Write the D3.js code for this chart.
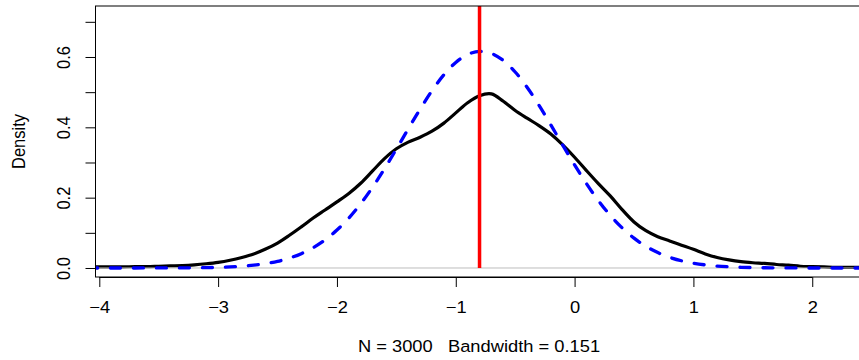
<!DOCTYPE html>
<html>
<head>
<meta charset="utf-8">
<script src="https://cdn.jsdelivr.net/npm/d3@7"></script>
<style>
  body { margin: 0; background: #fff; }
  svg { display: block; font-family: "Liberation Sans", Arial, Helvetica, sans-serif; }
</style>
</head>
<body>
<svg id="viz" width="859" height="360"></svg>
<script>
const svg = d3.select("#viz");
const width = +svg.attr("width");
const height = +svg.attr("height");

// plot region (R style box), right side runs just past the window
const box = { left: 95.5, right: 862.5, top: 6, bottom: 277 };

// data
const gridX = [-4.1, -4.0, -3.9, -3.8, -3.7, -3.6, -3.5, -3.4, -3.3, -3.2, -3.1, -3.0, -2.9, -2.8, -2.7, -2.6,
  -2.5, -2.4, -2.3, -2.2, -2.1, -2.0, -1.9, -1.8, -1.7, -1.6, -1.5, -1.4, -1.3, -1.2, -1.1, -1.0,
  -0.9, -0.8, -0.7, -0.6, -0.5, -0.4, -0.3, -0.2, -0.1, 0.0, 0.1, 0.2, 0.3, 0.4, 0.5, 0.6,
  0.7, 0.8, 0.9, 1.0, 1.1, 1.2, 1.3, 1.4, 1.5, 1.6, 1.7, 1.8, 1.9, 2.0, 2.1, 2.2, 2.3, 2.4, 2.5];
const kernelDensity = [0.003, 0.003, 0.003, 0.003, 0.004, 0.004, 0.005, 0.006, 0.007, 0.009, 0.012, 0.016, 0.022, 0.030, 0.040, 0.054,
  0.071, 0.093, 0.117, 0.142, 0.165, 0.188, 0.212, 0.241, 0.276, 0.311, 0.339, 0.358, 0.372, 0.389, 0.412, 0.441,
  0.470, 0.490, 0.495, 0.474, 0.448, 0.426, 0.405, 0.381, 0.350, 0.315, 0.277, 0.240, 0.205, 0.166, 0.131, 0.106,
  0.089, 0.077, 0.065, 0.053, 0.040, 0.030, 0.023, 0.018, 0.015, 0.013, 0.010, 0.008, 0.005, 0.004, 0.003, 0.002, 0.002, 0.002, 0.002];
const normalDensity = [0, 0, 0, 0, 0, 0.0001, 0.0001, 0.0002, 0.0004, 0.0006, 0.0011, 0.0018, 0.0031, 0.0050, 0.0080, 0.0125,
  0.0189, 0.0281, 0.0408, 0.0578, 0.0798, 0.1078, 0.1420, 0.1828, 0.2298, 0.2821, 0.3381, 0.3955, 0.4518, 0.5043, 0.5494, 0.5845,
  0.6072, 0.6160, 0.6101, 0.5901, 0.5573, 0.5139, 0.4628, 0.4070, 0.3494, 0.2930, 0.2399, 0.1917, 0.1497, 0.1142, 0.0849, 0.0617,
  0.0438, 0.0303, 0.0205, 0.0136, 0.0088, 0.0055, 0.0034, 0.0020, 0.0012, 0.0007, 0.0004, 0.0002, 0.0001, 0, 0, 0, 0, 0, 0];
const meanX = -0.8;

const xTicks = [-4, -3, -2, -1, 0, 1, 2];
const yTicks = [0, 0.1, 0.2, 0.3, 0.4, 0.5, 0.6, 0.7];
const yLabeled = [0, 0.2, 0.4, 0.6];
const yTitle = "Density";
const subTitle = "N = 3000   Bandwidth = 0.151";

const fontSize = 16.5;
const stretch = 1.11; // text in the picture is a bit wide

const x = d3.scaleLinear().domain([-4.032, 2.423]).range([box.left, box.right]);
const y = d3.scaleLinear().domain([-0.0256, 0.745]).range([box.bottom, box.top]);

svg.append("defs").append("clipPath").attr("id", "plotclip")
  .append("rect")
  .attr("x", box.left).attr("y", box.top)
  .attr("width", box.right - box.left).attr("height", box.bottom - box.top);

const plot = svg.append("g").attr("clip-path", "url(#plotclip)");

const kde = gridX.map((v, i) => ({ x: v, y: kernelDensity[i] }));
const norm = gridX.map((v, i) => ({ x: v, y: normalDensity[i] }));

const line = d3.line().x(d => x(d.x)).y(d => y(d.y)).curve(d3.curveCatmullRom);

plot.append("path")
  .datum(kde)
  .attr("fill", "none")
  .attr("stroke", "#000")
  .attr("stroke-width", 3.2)
  .attr("stroke-linejoin", "round")
  .attr("d", line);

// zero line
plot.append("line")
  .attr("x1", box.left).attr("x2", box.right)
  .attr("y1", y(0)).attr("y2", y(0))
  .attr("stroke", "#bebebe")
  .attr("stroke-width", 1);

plot.append("path")
  .datum(norm)
  .attr("fill", "none")
  .attr("stroke", "#0000ff")
  .attr("stroke-width", 3.3)
  .attr("stroke-linecap", "round")
  .attr("stroke-dasharray", "10,13")
  .attr("d", line);

plot.append("line")
  .attr("x1", x(meanX)).attr("x2", x(meanX))
  .attr("y1", y(0)).attr("y2", box.top)
  .attr("stroke", "#ff0000")
  .attr("stroke-width", 3.5);

// box
svg.append("rect")
  .attr("x", box.left).attr("y", box.top)
  .attr("width", box.right - box.left).attr("height", box.bottom - box.top)
  .attr("fill", "none")
  .attr("stroke", "#000")
  .attr("stroke-width", 1);

// x axis
const xAxis = svg.append("g")
  .attr("transform", `translate(0,${box.bottom})`)
  .call(d3.axisBottom(x).tickValues(xTicks).tickSize(10).tickPadding(14)
    .tickFormat(d => d < 0 ? "\u2212" + Math.abs(d) : String(d)));
xAxis.select(".domain")
  .attr("d", `M${x(xTicks[0])},0.5H${x(xTicks[xTicks.length - 1])}`);
xAxis.selectAll("text")
  .attr("font-size", fontSize)
  .attr("font-family", null)
  .attr("fill", "#000")
  .attr("transform", `scale(${stretch},1)`);

// y axis
const yAxis = svg.append("g")
  .attr("transform", `translate(${box.left},0)`)
  .call(d3.axisLeft(y).tickValues(yTicks).tickSize(10)
    .tickFormat(d => yLabeled.some(v => Math.abs(v - d) < 1e-9) ? d3.format(".1f")(d) : ""));
yAxis.select(".domain").remove();
yAxis.selectAll("text")
  .attr("font-size", fontSize)
  .attr("font-family", null)
  .attr("fill", "#000")
  .attr("x", 0).attr("dy", 0)
  .attr("text-anchor", "middle")
  .attr("transform", `translate(-25.5,0) scale(${stretch},1) rotate(-90)`);

svg.append("text")
  .attr("transform", `translate(25,${(box.top + box.bottom) / 2}) scale(${stretch},1) rotate(-90)`)
  .attr("text-anchor", "middle")
  .attr("font-size", fontSize)
  .text(yTitle);

svg.append("text")
  .attr("transform", `translate(${(box.left + box.right) / 2},351.5) scale(${stretch},1)`)
  .attr("text-anchor", "middle")
  .attr("font-size", fontSize)
  .style("white-space", "pre")
  .text(subTitle);
</script>
</body>
</html>
